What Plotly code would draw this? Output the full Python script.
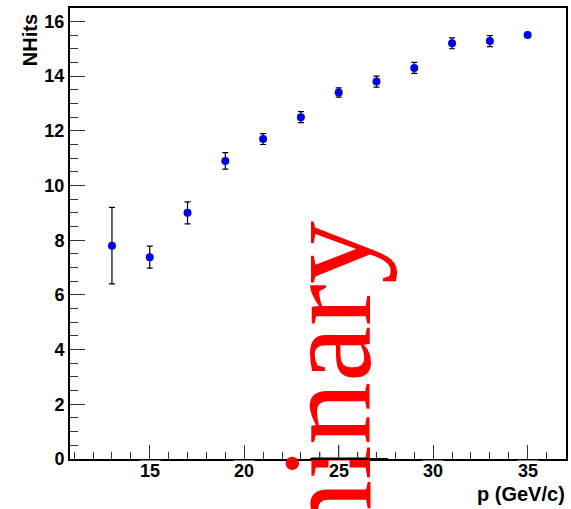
import plotly.graph_objects as go

p_values = [13, 15, 17, 19, 21, 23, 25, 27, 29, 31, 33, 35]
nhits = [7.8, 7.38, 9.0, 10.9, 11.7, 12.5, 13.4, 13.8, 14.3, 15.2, 15.28, 15.5]
nhits_err = [1.4, 0.4, 0.4, 0.3, 0.2, 0.2, 0.17, 0.2, 0.2, 0.2, 0.2, 0.06]
x_ticks = [15, 20, 25, 30, 35]
y_ticks = [0, 2, 4, 6, 8, 10, 12, 14, 16]

L, R, T, B = 70, 3, 8, 50
W, H = 571, 509
pw, ph = W - L - R, H - T - B
Y_MAX = 16.49

def px2paper_x(px):
    return (px - L) / pw

def px2paper_y(py):
    return (H - B - py) / ph

fig = go.Figure()
fig.add_trace(go.Scatter(
    x=p_values, y=nhits, mode="markers",
    marker=dict(color="#0000e6", size=8),
    error_y=dict(type="data", array=nhits_err, color="black", thickness=1.2, width=3),
    showlegend=False,
))

axis_font = dict(family="Liberation Sans, Arial, sans-serif", size=18, color="black", weight="bold")
title_font = dict(family="Liberation Sans, Arial, sans-serif", size=20, color="black", weight="bold")

fig.update_layout(
    width=W, height=H,
    margin=dict(l=L, r=R, t=T, b=B),
    paper_bgcolor="white", plot_bgcolor="white",
    xaxis=dict(
        range=[10.78, 37.03], tickvals=x_ticks, showticklabels=False,
        ticks="inside", ticklen=14, tickwidth=1.2, tickcolor="#333",
        minor=dict(dtick=1, tick0=0, ticks="inside", ticklen=7, tickwidth=1.2, tickcolor="#333"),
        showline=True, linecolor="black", linewidth=2, mirror=True,
        showgrid=False, zeroline=False,
    ),
    yaxis=dict(
        range=[0, Y_MAX], tickvals=y_ticks, ticktext=[str(v) for v in y_ticks],
        ticks="inside", ticklen=15, tickwidth=1.2, tickcolor="#333",
        minor=dict(dtick=0.5, tick0=0, ticks="inside", ticklen=7.5, tickwidth=1.2, tickcolor="#333"),
        showline=True, linecolor="black", linewidth=2, mirror=True,
        showgrid=False, zeroline=False, tickfont=axis_font,
    ),
)

fig.add_annotation(
    text="NHits", xref="paper", yref="paper",
    x=px2paper_x(30), y=px2paper_y(12), xanchor="center", yanchor="top",
    textangle=-90, showarrow=False, font=title_font,
)
fig.add_annotation(
    text="p (GeV/c)", xref="paper", yref="paper",
    x=px2paper_x(569), y=px2paper_y(494), xanchor="right", yanchor="middle",
    showarrow=False, font=title_font,
)
# watermark (drawn first so axis pieces and labels sit on top of it)
fig.add_annotation(
    text="Preliminary", xref="paper", yref="paper",
    x=px2paper_x(328), y=px2paper_y(518), xanchor="center", yanchor="middle",
    textangle=-90, showarrow=False,
    font=dict(family="Liberation Serif, Times New Roman, serif", size=126, color="#ff0000"),
)

# redraw the axis baseline and ticks that cross the watermark
px_per_unit = ph / Y_MAX
fig.add_annotation(x=27.6, y=0, ax=23.4, ay=0, xref="x", yref="y", axref="x", ayref="y",
                   text="", showarrow=True, arrowhead=0, arrowwidth=2, arrowcolor="black")
for t in [24, 25, 26, 27]:
    ln = (14 if t % 5 == 0 else 7) / px_per_unit
    fig.add_annotation(x=t, y=ln, ax=t, ay=0, xref="x", yref="y", axref="x", ayref="y",
                       text="", showarrow=True, arrowhead=0, arrowwidth=1.2, arrowcolor="#333")

# x tick labels
for t in x_ticks:
    fig.add_annotation(
        text=str(t), x=t, xref="x", yref="paper", y=px2paper_y(471),
        xanchor="center", yanchor="middle", showarrow=False, font=axis_font,
        bgcolor="white", borderpad=0,
    )

fig.write_html("out.html")
